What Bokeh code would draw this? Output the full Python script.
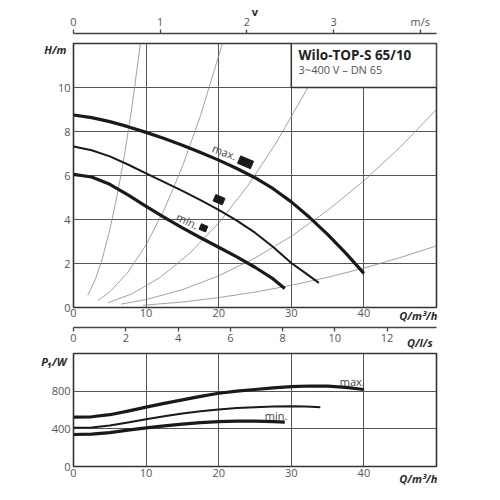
from bokeh.plotting import figure
from bokeh.models import Range1d, LinearAxis, FixedTicker, Label
from bokeh.layouts import column
from bokeh.embed import file_html
from bokeh.resources import INLINE

# ---------------- data ----------------
# pump head curves  H [m] over Q [m3/h]
max_q = [0, 2.5, 5, 7.5, 10, 12.5, 15, 17.5, 20, 22.5, 25, 27.5, 30, 32.5, 35, 37.5, 40]
max_h = [8.75, 8.63, 8.45, 8.22, 7.96, 7.68, 7.38, 7.05, 6.70, 6.32, 5.90, 5.40, 4.80, 4.10, 3.32, 2.47, 1.55]
mid_q = [0, 2.5, 5, 7.5, 10, 12.5, 15, 17.5, 20, 22.5, 25, 27.5, 30, 32, 33.8]
mid_h = [7.32, 7.15, 6.87, 6.50, 6.10, 5.70, 5.30, 4.88, 4.44, 3.95, 3.40, 2.75, 2.02, 1.55, 1.12]
min_q = [0, 2.5, 5, 7.5, 10, 12.5, 15, 17.5, 20, 22.5, 25, 27.5, 29.1]
min_h = [6.05, 5.93, 5.60, 5.12, 4.60, 4.10, 3.62, 3.17, 2.74, 2.30, 1.83, 1.30, 0.86]

# system curves (thin grey)
sys1_q = [1.97, 3, 4, 5, 6, 7, 8, 9.22]
sys1_h = [0.55, 1.27, 2.26, 3.53, 5.08, 6.9, 9.0, 12.0]
sys2_q = [3.36, 5, 7.5, 10, 12.5, 15, 17.5, 20.52]
sys2_h = [0.32, 0.71, 1.6, 2.85, 4.45, 6.41, 8.73, 12.0]
sys3_q = [4.74, 8, 12, 16, 20, 24, 28, 32, 35.36]
sys3_h = [0.22, 0.61, 1.38, 2.46, 3.84, 5.53, 7.53, 9.83, 12.0]
sys4_q = [6.57, 10, 15, 20, 25, 30, 35, 40, 45, 50]
sys4_h = [0.155, 0.36, 0.81, 1.44, 2.25, 3.24, 4.41, 5.76, 7.29, 9.0]
sys5_q = [9.6, 15, 20, 25, 30, 35, 40, 45, 50]
sys5_h = [0.10, 0.25, 0.45, 0.70, 1.01, 1.37, 1.79, 2.27, 2.8]

# speed setting markers
marker_q = [23.7, 20.05, 17.9]
marker_h = [6.6, 4.9, 3.62]

# power curves P1 [W] over Q [m3/h]
pmax_q = [0, 2.5, 5, 7.5, 10, 12.5, 15, 17.5, 20, 22.5, 25, 27.5, 30, 32.5, 35, 37.5, 40]
pmax_p = [524, 528, 550, 588, 630, 670, 708, 745, 778, 800, 818, 835, 848, 855, 853, 840, 818]
pmid_q = [0, 2.5, 5, 7.5, 10, 12.5, 15, 17.5, 20, 22.5, 25, 27.5, 30, 32, 34]
pmid_p = [411, 414, 435, 468, 502, 533, 562, 586, 605, 620, 630, 637, 640, 636, 628]
pmin_q = [0, 2.5, 5, 7.5, 10, 12.5, 15, 17.5, 20, 22.5, 25, 27.5, 29.1]
pmin_p = [340, 343, 360, 386, 411, 432, 450, 466, 476, 481, 481, 477, 472]

# axes / ticks
q_ticks = [0, 10, 20, 30, 40]
h_ticks = [0, 2, 4, 6, 8, 10]
v_ticks = [0, 1, 2, 3, 4]
ls_ticks = [0, 2, 4, 6, 8, 10, 12]
p_ticks = [0, 400, 800]
Q_MAX = 50
H_MAX = 12
P_MAX = 1200
Q_PER_MS = 11.94     # m3/h per 1 m/s (DN 65)
Q_PER_LS = 3.6       # m3/h per 1 l/s

title_text = "Wilo-TOP-S 65/10"
subtitle_text = "3~400 V \u2013 DN 65"
box_q = (30, 50)
box_h = (10, 12)

# unit captions placed on their axes: (position, text)
unit_h = (11.75, "H/m")
unit_q = (47.5, "Q/m\u00b3/h")
unit_ls = (13.25, "Q/l/s")
unit_ms = (4, "m/s")
unit_v = "v"
unit_p = (1150, "P\u2081/W")

# ---------------- style ----------------
FONT = "Open Sans"
TICK_COLOR = "#555555"
UNIT_COLOR = "#2a2a2a"
CURVE_COLOR = "#1a1a1a"
GRID_COLOR = "#555555"
SYS_COLOR = "#8a8a8a"
MARKER_W = [14, 10, 7]
MARKER_HT = [8, 7, 6]


def style_axis(ax, size="11px"):
    ax.major_label_text_font = FONT
    ax.major_label_text_font_size = size
    ax.major_label_text_color = TICK_COLOR
    ax.minor_tick_line_color = None


def spacer_axis(rng, px):
    ax = LinearAxis(x_range_name=rng, ticker=FixedTicker(ticks=[0]),
                    major_tick_out=px, major_tick_in=0, major_label_standoff=0,
                    major_label_overrides={0: ""},
                    major_label_text_font_size="1px",
                    axis_line_color=None, major_tick_line_color=None,
                    minor_tick_line_color=None)
    return ax


def unit_axis(unit, standoff, x_range_name=None):
    pos, text = unit
    kw = {}
    if x_range_name:
        kw["x_range_name"] = x_range_name
    return LinearAxis(ticker=FixedTicker(ticks=[pos]),
                      major_label_overrides={pos: text},
                      major_tick_out=0, major_tick_in=0,
                      major_label_standoff=standoff,
                      axis_line_color=None, major_tick_line_color=None,
                      minor_tick_line_color=None,
                      major_label_text_font=FONT, major_label_text_font_size="11px",
                      major_label_text_font_style="bold italic",
                      major_label_text_color=UNIT_COLOR, **kw)


def bare_axis(ax, ticks, standoff):
    ax.ticker = FixedTicker(ticks=ticks)
    ax.axis_line_color = None
    ax.major_tick_line_color = None
    ax.major_tick_out = 0
    ax.major_tick_in = 0
    ax.major_label_standoff = standoff
    style_axis(ax)


def label(p, x, y, text, dx=0, dy=0, align="center", size="11px", style="normal",
          color=TICK_COLOR, angle=0.0, baseline="middle"):
    p.add_layout(Label(x=x, y=y, x_offset=dx, y_offset=dy, text=text,
                       text_font=FONT, text_font_size=size, text_font_style=style,
                       text_color=color, text_align=align, text_baseline=baseline,
                       angle=angle, angle_units="rad"))


# ---------------- top chart ----------------
p = figure(frame_width=363, frame_height=264,
           x_range=Range1d(0, Q_MAX), y_range=Range1d(0, H_MAX),
           output_backend="svg", toolbar_location=None,
           min_border_left=73, min_border_right=20,
           min_border_top=43, min_border_bottom=44)
p.extra_x_ranges = {"v": Range1d(0, Q_MAX / Q_PER_MS),
                    "ls": Range1d(0, Q_MAX / Q_PER_LS)}

p.outline_line_color = "#333333"
p.outline_line_width = 1.6
p.background_fill_color = "white"
p.border_fill_color = "white"

xa = p.xaxis[0]
ya = p.yaxis[0]
bare_axis(xa, q_ticks, 1)
bare_axis(ya, h_ticks, 3)

p.xgrid.ticker = FixedTicker(ticks=q_ticks[1:])
p.ygrid.ticker = FixedTicker(ticks=h_ticks[1:])
for g in (p.xgrid, p.ygrid):
    g.grid_line_color = GRID_COLOR
    g.grid_line_width = 1

ls_ax = LinearAxis(x_range_name="ls", ticker=FixedTicker(ticks=ls_ticks),
                   axis_line_color="#444444", axis_line_width=1.5,
                   major_tick_line_color="#444444", major_tick_line_width=1.3,
                   major_tick_out=4, major_tick_in=0, major_label_standoff=2)
style_axis(ls_ax)

v_ax = LinearAxis(x_range_name="v", ticker=FixedTicker(ticks=v_ticks),
                  axis_line_color="#444444", axis_line_width=1.5,
                  major_tick_line_color="#444444", major_tick_line_width=1.3,
                  major_tick_out=4, major_tick_in=0, major_label_standoff=1,
                  major_label_overrides={unit_ms[0]: unit_ms[1]},
                  axis_label=unit_v, axis_label_standoff=-8,
                  axis_label_text_font=FONT, axis_label_text_font_size="11px",
                  axis_label_text_font_style="bold", axis_label_text_color=UNIT_COLOR)
style_axis(v_ax)

p.add_layout(unit_axis(unit_q, -12), "below")
p.add_layout(spacer_axis("ls", 2), "below")
p.add_layout(ls_ax, "below")
p.add_layout(unit_axis(unit_ls, -10, "ls"), "below")
p.add_layout(unit_axis(unit_h, -12), "left")
p.add_layout(spacer_axis("v", 10), "above")
p.add_layout(v_ax, "above")

# system curves
for sq, sh in ((sys1_q, sys1_h), (sys2_q, sys2_h), (sys3_q, sys3_h),
               (sys4_q, sys4_h), (sys5_q, sys5_h)):
    p.line(sq, sh, line_color=SYS_COLOR, line_width=0.8)

# pump curves
p.line(max_q, max_h, line_color=CURVE_COLOR, line_width=3.2, line_join="round")
p.line(mid_q, mid_h, line_color=CURVE_COLOR, line_width=2.0, line_join="round")
p.line(min_q, min_h, line_color=CURVE_COLOR, line_width=3.2, line_join="round")

# markers
p.rect(x=marker_q, y=marker_h, width=MARKER_W, height=MARKER_HT,
       width_units="screen", height_units="screen", angle=-0.4,
       fill_color=CURVE_COLOR, line_color=CURVE_COLOR)

# title box
p.quad(left=[box_q[0]], right=[box_q[1]], bottom=[box_h[0]], top=[box_h[1]],
       fill_color="white", line_color="#333333", line_width=1.5)
label(p, box_q[0] + 1, box_h[1], title_text, dy=-11, align="left",
      size="13.5px", style="bold", color="#222222")
label(p, box_q[0] + 1, box_h[1], subtitle_text, dy=-26, align="left",
      size="11px", color="#555555")

# curve labels
label(p, 20.8, 7.07, "max.", angle=-0.36, size="11px", color="#444444")
label(p, 15.7, 3.95, "min.", angle=-0.45, size="11px", color="#444444")

# ---------------- bottom chart ----------------
p2 = figure(frame_width=363, frame_height=113,
            x_range=Range1d(0, Q_MAX), y_range=Range1d(0, P_MAX),
            output_backend="svg", toolbar_location=None,
            min_border_left=73, min_border_right=20,
            min_border_top=1, min_border_bottom=24)
p2.outline_line_color = "#333333"
p2.outline_line_width = 1.6
p2.border_fill_color = "white"

bare_axis(p2.xaxis[0], q_ticks, 2)
bare_axis(p2.yaxis[0], p_ticks, 3)
p2.add_layout(unit_axis(unit_q, -9), "below")
p2.add_layout(unit_axis(unit_p, -18), "left")

p2.xgrid.ticker = FixedTicker(ticks=q_ticks[1:])
p2.ygrid.ticker = FixedTicker(ticks=p_ticks[1:])
for g in (p2.xgrid, p2.ygrid):
    g.grid_line_color = GRID_COLOR
    g.grid_line_width = 1

p2.line(pmax_q, pmax_p, line_color=CURVE_COLOR, line_width=3.2, line_join="round")
p2.line(pmid_q, pmid_p, line_color=CURVE_COLOR, line_width=2.0, line_join="round")
p2.line(pmin_q, pmin_p, line_color=CURVE_COLOR, line_width=3.2, line_join="round")

label(p2, 38.4, 906, "max.", color="#444444")
label(p2, 27.9, 542, "min.", color="#444444")

layout = column(p, p2)
open("out.html", "w").write(file_html(layout, INLINE))
